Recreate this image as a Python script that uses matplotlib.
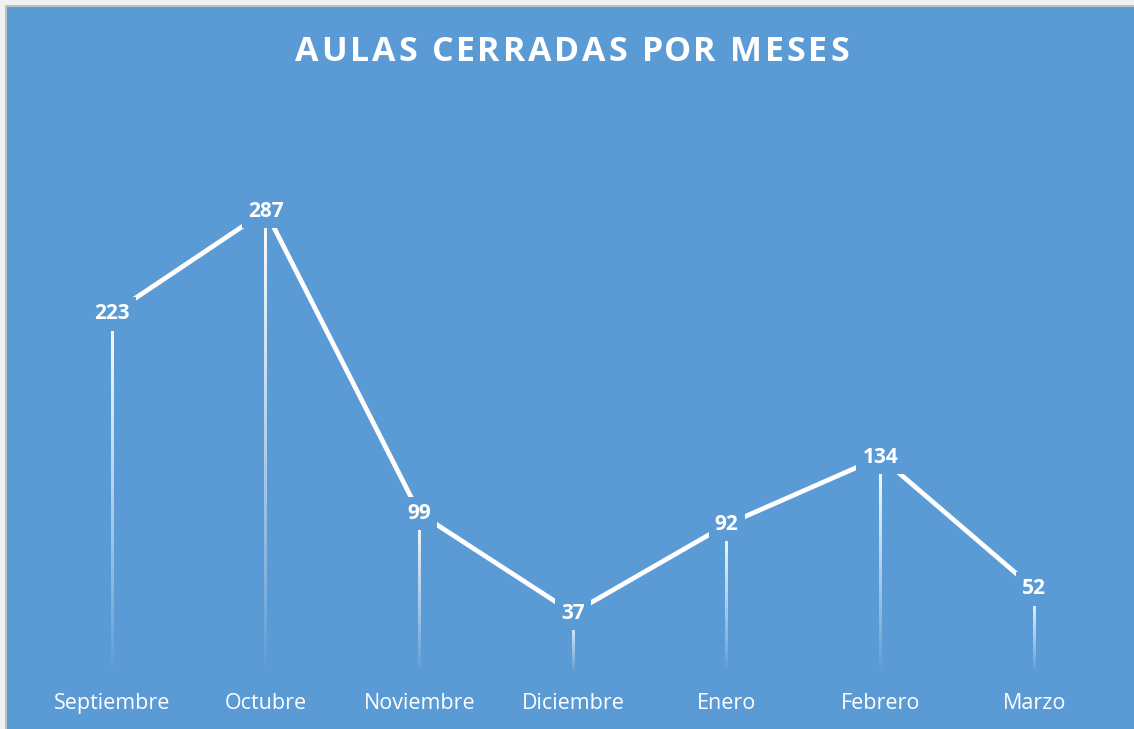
import numpy as np
import matplotlib
matplotlib.use("Agg")
import matplotlib.pyplot as plt
from matplotlib.patches import Rectangle

months = ["Septiembre", "Octubre", "Noviembre", "Diciembre", "Enero", "Febrero", "Marzo"]
closed = [223, 287, 99, 37, 92, 134, 52]
title = "AULAS CERRADAS POR MESES"

BG = "#5B9BD5"
W, H = 1134, 729

plt.rcParams["font.family"] = ["Open Sans", "DejaVu Sans"]

fig = plt.figure(figsize=(W / 100, H / 100), dpi=100)
fig.patch.set_facecolor(BG)
renderer = fig.canvas.get_renderer()


def text_width(s, **kw):
    t = fig.text(0, 0, s, **kw)
    w = t.get_window_extent(renderer).width
    t.remove()
    return w


def spaced_text(cx, cy, s, spacing, **kw):
    """Centered text in figure pixels with extra space between letters."""
    widths = [text_width("A" + ch + "A", **kw) - text_width("AA", **kw) for ch in s]
    total = sum(widths) + spacing * (len(s) - 1)
    px = cx - total / 2
    for ch, w in zip(s, widths):
        if ch != " ":
            fig.text(px / W, cy / H, ch, ha="left", va="center", **kw)
        px += w + spacing


# grey frame strip at the top and left edge (chart is cropped on the other sides)
fig.patches.append(Rectangle((0, 0), 5 / W, 1, transform=fig.transFigure,
                             facecolor="#F0F0F0", edgecolor="none", zorder=0))
fig.patches.append(Rectangle((0, 1 - 5 / H), 1, 5 / H, transform=fig.transFigure,
                             facecolor="#F0F0F0", edgecolor="none", zorder=0))
fig.lines.append(plt.Line2D([5.5 / W, 5.5 / W], [0, 1 - 5.5 / H], transform=fig.transFigure,
                            color="#C8C8C8", lw=1.2))
fig.lines.append(plt.Line2D([5.5 / W, 1], [1 - 5.5 / H, 1 - 5.5 / H], transform=fig.transFigure,
                            color="#C8C8C8", lw=1.2))

ax_w_px = 1076
ax = fig.add_axes([35 / W, (H - 672.5) / H, ax_w_px / W, (672.5 - 109.7) / H])
ax.set_facecolor(BG)
x = np.arange(len(months))
ax.set_xlim(-0.5, len(months) - 0.5)
ax.set_ylim(0, 350)
ax.set_yticks([])
for s in ax.spines.values():
    s.set_visible(False)

# drop lines: white -> transparent vertical gradient (drawn as thin images)
half_w = 1.3 / (ax_w_px / len(months))  # ~2.6 px wide line
grad = np.zeros((256, 1, 4))
grad[..., :3] = 1.0
grad[:, 0, 3] = np.linspace(0, 1, 256) ** 0.9
for xi, v in zip(x, closed):
    ax.imshow(grad, extent=[xi - half_w, xi + half_w, 0, v], origin="lower",
              aspect="auto", interpolation="bilinear", zorder=2)
ax.set_xlim(-0.5, len(months) - 0.5)
ax.set_ylim(0, 350)

ax.plot(x, closed, color="white", lw=3.4, solid_capstyle="butt", zorder=3)

for xi, v in zip(x, closed):
    ax.text(xi, v, str(v), ha="center", va="center", color="white",
            fontsize=15, fontweight="bold", zorder=4,
            bbox=dict(boxstyle="square,pad=0.3", facecolor=BG, edgecolor="none"))

ax.set_xticks(x)
ax.set_xticklabels(months, color="white", fontsize=15.5)
ax.tick_params(axis="x", length=0, pad=15)

spaced_text(572, H - 52, title, 2.9, color="white", fontsize=24.5, fontweight="bold")

fig.savefig("out.png", dpi=100, facecolor=fig.get_facecolor())
